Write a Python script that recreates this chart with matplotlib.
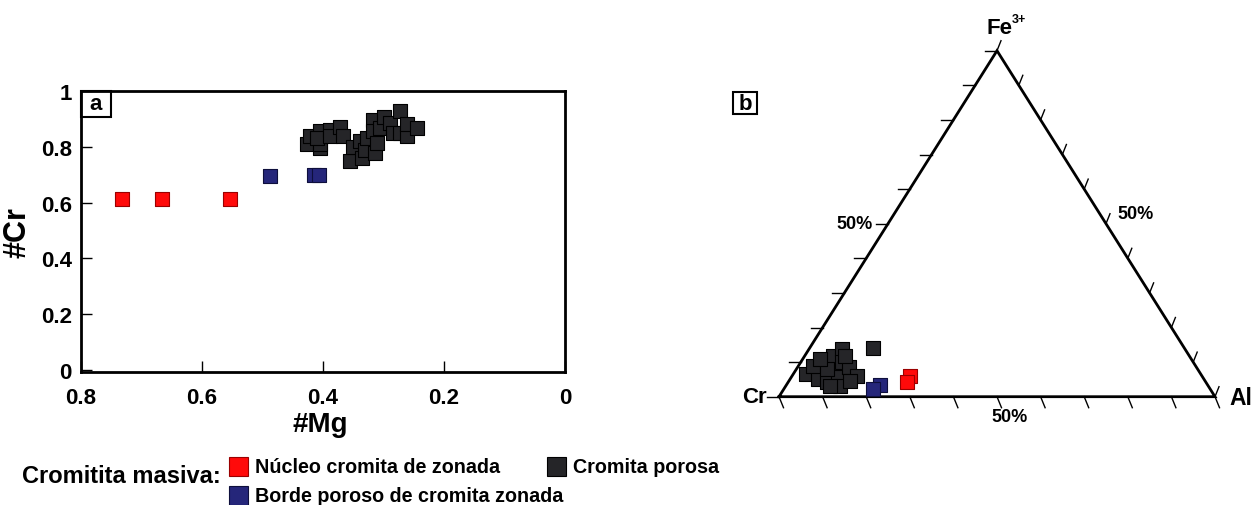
import numpy as np
import matplotlib
matplotlib.use("Agg")
import matplotlib.pyplot as plt
from matplotlib.patches import Rectangle

plt.rcParams["font.family"] = ["Liberation Sans", "DejaVu Sans"]
plt.rcParams["font.weight"] = "bold"

# ---- panel a: #Mg vs #Cr ----
red_mg = [0.732, 0.666, 0.554]
red_cr = [0.614, 0.614, 0.614]
blue_mg = [0.488, 0.415, 0.407]
blue_cr = [0.694, 0.700, 0.700]
black_mg = [0.427, 0.421, 0.405, 0.405, 0.405, 0.410, 0.388, 0.388, 0.372, 0.367,
            0.355, 0.350, 0.339, 0.336, 0.331, 0.327, 0.317, 0.317, 0.314, 0.311,
            0.306, 0.300, 0.289, 0.284, 0.273, 0.273, 0.261, 0.261, 0.245]
black_cr = [0.811, 0.837, 0.856, 0.797, 0.810, 0.830, 0.860, 0.840, 0.872, 0.838,
            0.748, 0.800, 0.820, 0.760, 0.790, 0.831, 0.895, 0.855, 0.779, 0.814,
            0.866, 0.908, 0.884, 0.849, 0.930, 0.850, 0.838, 0.880, 0.866]

x_ticks = [0.8, 0.6, 0.4, 0.2, 0]
x_tick_labels = ["0.8", "0.6", "0.4", "0.2", "0"]
y_ticks = [0, 0.2, 0.4, 0.6, 0.8, 1]
y_tick_labels = ["0", "0.2", "0.4", "0.6", "0.8", "1"]

# ---- panel b: Cr - Al - Fe3+ ternary (fractions) ----
red_al = [0.270, 0.272]
red_fe = [0.061, 0.042]
blue_al = [0.214, 0.204]
blue_fe = [0.035, 0.022]
black_al = [0.146, 0.030, 0.065, 0.050, 0.088, 0.066, 0.075, 0.094, 0.108, 0.117,
            0.124, 0.148, 0.034, 0.069, 0.140, 0.101, 0.040, 0.092]
black_fe = [0.140, 0.066, 0.051, 0.104, 0.042, 0.118, 0.138, 0.099, 0.056, 0.085,
            0.032, 0.061, 0.090, 0.080, 0.046, 0.032, 0.109, 0.118]
tern_ticks = np.linspace(0, 1, 11)

series_labels = ["Núcleo cromita de zonada", "Borde poroso de cromita zonada",
                 "Cromita porosa"]
RED, RED_E = "#ff0a0a", "#9a0000"
BLUE, BLUE_E = "#25267a", "#0e0f3c"
BLACK, BLACK_E = "#252528", "#000000"

W, H = 1256, 506
fig = plt.figure(figsize=(W / 100, H / 100), dpi=100)


def fpos(x, y):
    return x / W, 1 - y / H


# ---------------- panel a ----------------
ax = fig.add_axes([81 / W, 1 - 373 / H, 484 / W, 281 / H])
ms = 10.6 ** 2
ax.scatter(red_mg, red_cr, marker="s", s=ms, c=RED, edgecolors=RED_E, linewidths=0.8, zorder=3)
ax.scatter(blue_mg, blue_cr, marker="s", s=ms, c=BLUE, edgecolors=BLUE_E, linewidths=0.8, zorder=3)
ax.scatter(black_mg, black_cr, marker="s", s=ms, c=BLACK, edgecolors=BLACK_E, linewidths=0.8, zorder=3)
ax.set_xlim(0.8, 0)
ax.set_ylim(-0.007, 0.982)
ax.set_xticks(x_ticks)
ax.set_xticklabels(x_tick_labels)
ax.set_yticks(y_ticks)
ax.set_yticklabels(y_tick_labels)
ax.tick_params(direction="in", length=8, width=1, labelsize=16)
ax.tick_params(axis="y", pad=6.5)
ax.tick_params(axis="x", pad=10.5)
for lab in ax.get_xticklabels() + ax.get_yticklabels():
    lab.set_fontweight("bold")
for sp in ax.spines.values():
    sp.set_linewidth(2)
ax.set_xlabel("#Mg", fontsize=20, fontweight="bold")
ax.xaxis.set_label_coords((320 - 81) / 484, (373 - 412) / 281)
ax.set_ylabel("#Cr", fontsize=22, fontweight="bold")
ax.yaxis.set_label_coords((33 - 81) / 484, 0.5)
ax.add_patch(Rectangle((0, 1 - 26 / 281), 30 / 484, 26 / 281, transform=ax.transAxes,
                       fill=False, lw=1.5, ec="black", zorder=4, clip_on=False))
ax.text(15 / 484, 1 - 13 / 281, "a", transform=ax.transAxes, ha="center", va="center",
        fontsize=16, fontweight="bold", zorder=5)

# ---------------- panel b ----------------
x0, y0, tw, th = 779, 397.7, 436, 346
bx = fig.add_axes([x0 / W, 1 - y0 / H, tw / W, th / H])
bx.set_xlim(0, 1)
bx.set_ylim(0, 1)
bx.axis("off")


def tern(al, fe):
    al = np.asarray(al)
    fe = np.asarray(fe)
    return al + fe / 2, fe


bx.plot([0, 1, 0.5, 0], [0, 0, 1, 0], color="black", lw=2, clip_on=False,
        solid_joinstyle="miter")

# tick marks (pixel lengths converted to data units)
for t in tern_ticks:
    # left edge (Cr - Fe3+), horizontal to the left
    lx, ly = t / 2, t
    bx.plot([lx, lx - 12 / tw], [ly, ly], color="black", lw=1, clip_on=False)
    # right edge (Fe3+ - Al), slanting up-right outward
    rx, ry = 0.5 + t / 2, 1 - t
    bx.plot([rx, rx + 4 / tw], [ry, ry + 10 / th], color="black", lw=1, clip_on=False)
    # base (Cr - Al), slanting down-right
    bx.plot([t, t + 4.5 / tw], [0, -11 / th], color="black", lw=1, clip_on=False)

px, py = tern(black_al, black_fe)
bx.scatter(px, py, marker="s", s=ms, c=BLACK, edgecolors=BLACK_E, linewidths=0.8,
           zorder=3, clip_on=False)
px, py = tern(blue_al, blue_fe)
bx.scatter(px, py, marker="s", s=10 ** 2, c=BLUE, edgecolors=BLUE_E, linewidths=0.8,
           zorder=3, clip_on=False)
px, py = tern(red_al, red_fe)
bx.scatter(px, py, marker="s", s=10 ** 2, c=RED, edgecolors=RED_E, linewidths=0.8,
           zorder=3, clip_on=False)

fig.text(*fpos(999, 28), "Fe", fontsize=16, fontweight="bold", ha="center", va="center")
fig.text(*fpos(1012, 20), "3+", fontsize=9, fontweight="bold", ha="left", va="center")
fig.text(*fpos(767, 398), "Cr", fontsize=16, fontweight="bold", ha="right", va="center")
fig.text(*fpos(1229, 399), "Al", fontsize=16.5, fontweight="bold", ha="left", va="center")
fig.text(*fpos(873, 225), "50%", fontsize=13, fontweight="bold", ha="right", va="center")
fig.text(*fpos(1117, 215), "50%", fontsize=13, fontweight="bold", ha="left", va="center")
fig.text(*fpos(1010, 418), "50%", fontsize=13, fontweight="bold", ha="center", va="center")

fig.add_artist(Rectangle(fpos(733, 115), 24 / W, 22 / H, transform=fig.transFigure,
                         fill=False, lw=1.5, ec="black"))
fig.text(*fpos(745, 104), "b", fontsize=16, fontweight="bold", ha="center", va="center")

# ---------------- legend ----------------
fig.text(*fpos(22, 477), "Cromitita masiva:", fontsize=17, fontweight="bold",
         ha="left", va="center")
legend_items = [(229, 458, RED, RED_E, series_labels[0]),
                (229, 487, BLUE, BLUE_E, series_labels[1]),
                (547, 458, BLACK, BLACK_E, series_labels[2])]
for lx, ly, fc, ec, lab in legend_items:
    fig.add_artist(Rectangle(fpos(lx, ly + 19), 19 / W, 19 / H, transform=fig.transFigure,
                             fc=fc, ec=ec, lw=0.8))
    fig.text(*fpos(lx + 26, ly + 10), lab, fontsize=14.2, fontweight="bold",
             ha="left", va="center")

fig.savefig("out.png", dpi=100)
